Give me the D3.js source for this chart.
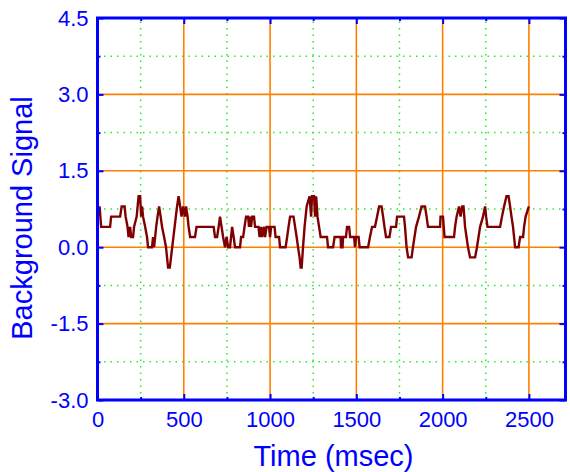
<!DOCTYPE html>
<html lang="en">
<head>
  <meta charset="utf-8">
  <script src="https://d3js.org/d3.v7.min.js"></script>
  <style>
    body {
      margin: 0;
      background: #fff;
      font-family: Arial, "Liberation Sans", sans-serif;
    }
  </style>
  <title>Background Signal</title>
</head>
<body>
<div id="vis"></div>
<script>
// time (msec) and signal
const timeMs = [0, 12, 21, 73, 79, 131, 140, 157, 163, 174, 180, 189, 195, 206, 212, 227, 238, 247, 253, 258,
  264, 276, 287, 293, 316, 322, 328, 340, 348, 357, 366, 374, 386, 397, 403, 409, 419, 461, 470, 479,
  487, 496, 507, 513, 522, 528, 537, 565, 574, 673, 681, 693, 702, 710, 719, 728, 739, 748, 757, 768,
  780, 789, 797, 826, 832, 844, 852, 861, 873, 878, 884, 890, 896, 907, 913, 933, 939, 948, 954, 965,
  971, 980, 994, 1000, 1006, 1026, 1032, 1052, 1058, 1090, 1099, 1107, 1116, 1136, 1145, 1154, 1162, 1171, 1177, 1183,
  1191, 1200, 1212, 1229, 1238, 1243, 1255, 1261, 1267, 1275, 1284, 1293, 1330, 1336, 1365, 1374, 1409, 1411, 1420, 1423,
  1440, 1446, 1458, 1464, 1487, 1492, 1498, 1513, 1519, 1568, 1579, 1591, 1608, 1620, 1632, 1646, 1655, 1663, 1672, 1692,
  1701, 1730, 1736, 1776, 1782, 1791, 1800, 1820, 1828, 1846, 1863, 1878, 1898, 1907, 1915, 1985, 1988, 2002, 2011, 2066,
  2072, 2081, 2095, 2104, 2113, 2121, 2130, 2147, 2159, 2188, 2199, 2217, 2234, 2246, 2252, 2260, 2333, 2344, 2356, 2370,
  2382, 2391, 2399, 2408, 2420, 2440, 2449, 2466, 2472, 2481, 2500];
const signal = [0.6, 0.8, 0.4, 0.4, 0.6, 0.6, 0.8, 0.8, 0.6, 0.4, 0.2, 0.4, 0.2, 0.2, 0.4, 0.6, 1.0, 1.0, 0.6, 0.8,
  0.6, 0.4, 0.2, 0, 0, 0.2, 0, 0.4, 0.6, 0.8, 0.6, 0.4, 0.2, 0, -0.2, -0.4, -0.4, 0.8, 1.0, 0.8,
  0.6, 0.8, 0.6, 0.8, 0.6, 0.4, 0.2, 0.2, 0.4, 0.4, 0.2, 0.2, 0.4, 0.6, 0.4, 0.2, 0, 0.2, 0, 0,
  0.4, 0.2, 0, 0, 0.2, 0.2, 0.4, 0.6, 0.6, 0.4, 0.6, 0.4, 0.6, 0.6, 0.4, 0.4, 0.2, 0.4, 0.2, 0.4,
  0.2, 0.4, 0.4, 0.2, 0.4, 0.4, 0.2, 0.2, 0, 0, 0.2, 0.4, 0.6, 0.6, 0.4, 0.2, 0, -0.2, -0.4, -0.4,
  0, 0.4, 0.8, 1.0, 0.6, 1.0, 1.0, 0.6, 1.0, 0.6, 0.4, 0.2, 0.2, 0, 0, 0.2, 0.2, 0, 0, 0.2,
  0.2, 0.4, 0.4, 0.2, 0.2, 0, 0.2, 0.2, 0, 0, 0.2, 0.4, 0.4, 0.6, 0.8, 0.8, 0.6, 0.4, 0.2, 0.2,
  0.4, 0.4, 0.6, 0.6, 0.4, 0, -0.2, -0.2, 0, 0.4, 0.6, 0.8, 0.8, 0.6, 0.4, 0.4, 0.6, 0.6, 0.2, 0.2,
  0.4, 0.6, 0.8, 0.6, 0.8, 0.8, 0.4, 0, -0.2, -0.2, 0, 0.4, 0.6, 0.8, 0.6, 0.4, 0.4, 0.6, 0.8, 1.0,
  1.0, 0.8, 0.6, 0.4, 0, 0, 0.2, 0.2, 0.4, 0.6, 0.8];

const xMajor = [0, 500, 1000, 1500, 2000, 2500];
const xMinor = [250, 750, 1250, 1750, 2250];
const yMajor = [-3.0, -1.5, 0.0, 1.5, 3.0, 4.5];
const yMinor = [-2.25, -0.75, 0.75, 2.25, 3.75];

const width = 570;
const height = 472;
const margin = { left: 97.5, right: 4.5, top: 18, bottom: 72 };

const blue = '#0000ff';
const orange = '#ff8000';
const green = '#22ee22';

const svg = d3.select('#vis')
  .append('svg')
  .attr('width', width)
  .attr('height', height);

const x = d3.scaleLinear()
  .domain([0, 2712])
  .range([margin.left, width - margin.right]);

const y = d3.scaleLinear()
  .domain([-3, 4.5])
  .range([height - margin.bottom, margin.top]);

const x0 = x.range()[0], x1 = x.range()[1];
const y0 = y.range()[0], y1 = y.range()[1];

// minor grid, dotted green
svg.append('g')
  .selectAll('line')
  .data(xMinor)
  .join('line')
  .attr('x1', d => x(d)).attr('x2', d => x(d))
  .attr('y1', y0).attr('y2', y1)
  .attr('stroke', green)
  .attr('stroke-width', 1.5)
  .attr('stroke-dasharray', '1.5,5');

svg.append('g')
  .selectAll('line')
  .data(yMinor)
  .join('line')
  .attr('x1', x0).attr('x2', x1)
  .attr('y1', d => y(d)).attr('y2', d => y(d))
  .attr('stroke', green)
  .attr('stroke-width', 1.5)
  .attr('stroke-dasharray', '1.5,5');

// major grid, orange
svg.append('g')
  .selectAll('line')
  .data(xMajor)
  .join('line')
  .attr('x1', d => x(d)).attr('x2', d => x(d))
  .attr('y1', y0).attr('y2', y1)
  .attr('stroke', orange)
  .attr('stroke-width', 1.6);

svg.append('g')
  .selectAll('line')
  .data(yMajor)
  .join('line')
  .attr('x1', x0).attr('x2', x1)
  .attr('y1', d => y(d)).attr('y2', d => y(d))
  .attr('stroke', orange)
  .attr('stroke-width', 1.6);

// the signal trace
const points = timeMs.map((t, i) => [t, signal[i]]);
svg.append('path')
  .datum(points)
  .attr('fill', 'none')
  .attr('stroke', '#800000')
  .attr('stroke-width', 2.4)
  .attr('stroke-linejoin', 'miter')
  .attr('d', d3.line().x(d => x(d[0])).y(d => y(d[1])));

// inward ticks on all four sides
function tickAxis(axis, transform, values, size) {
  const g = svg.append('g')
    .attr('transform', transform)
    .call(axis.tickValues(values).tickSize(size).tickFormat(''));
  g.select('.domain').remove();
  g.selectAll('line').attr('stroke', blue).attr('stroke-width', 2);
}
tickAxis(d3.axisBottom(x), `translate(0,${y0})`, xMajor, -6);
tickAxis(d3.axisBottom(x), `translate(0,${y0})`, xMinor, -3);
tickAxis(d3.axisTop(x), `translate(0,${y1})`, xMajor, -6);
tickAxis(d3.axisTop(x), `translate(0,${y1})`, xMinor, -3);
tickAxis(d3.axisLeft(y), `translate(${x0},0)`, yMajor, -6);
tickAxis(d3.axisLeft(y), `translate(${x0},0)`, yMinor, -3);
tickAxis(d3.axisRight(y), `translate(${x1},0)`, yMajor, -6);
tickAxis(d3.axisRight(y), `translate(${x1},0)`, yMinor, -3);

// frame
svg.append('rect')
  .attr('x', x0).attr('y', y1)
  .attr('width', x1 - x0).attr('height', y0 - y1)
  .attr('fill', 'none')
  .attr('stroke', blue)
  .attr('stroke-width', 3);

// tick labels
const xLabels = svg.append('g')
  .attr('transform', `translate(0,${y0})`)
  .call(d3.axisBottom(x).tickValues(xMajor).tickSize(0).tickPadding(11).tickFormat(d3.format('d')));
xLabels.select('.domain').remove();
xLabels.selectAll('text')
  .attr('fill', blue)
  .style('font-size', '22px')
  .style('font-family', 'Arial, "Liberation Sans", sans-serif');

const yLabels = svg.append('g')
  .attr('transform', `translate(${x0},0)`)
  .call(d3.axisLeft(y).tickValues(yMajor).tickSize(0).tickPadding(9)
    .tickFormat(d => d3.format('.1f')(d).replace('\u2212', '-')));
yLabels.select('.domain').remove();
yLabels.selectAll('text')
  .attr('fill', blue)
  .style('font-size', '22px')
  .style('font-family', 'Arial, "Liberation Sans", sans-serif');

// axis titles
svg.append('text')
  .attr('x', (x0 + x1) / 2 + 2)
  .attr('y', 466)
  .attr('text-anchor', 'middle')
  .attr('fill', blue)
  .style('font-size', '29px')
  .text('Time (msec)');

svg.append('text')
  .attr('transform', `translate(32,${(y0 + y1) / 2 + 9}) rotate(-90)`)
  .attr('text-anchor', 'middle')
  .attr('fill', blue)
  .style('font-size', '29px')
  .text('Background Signal');
</script>
</body>
</html>
